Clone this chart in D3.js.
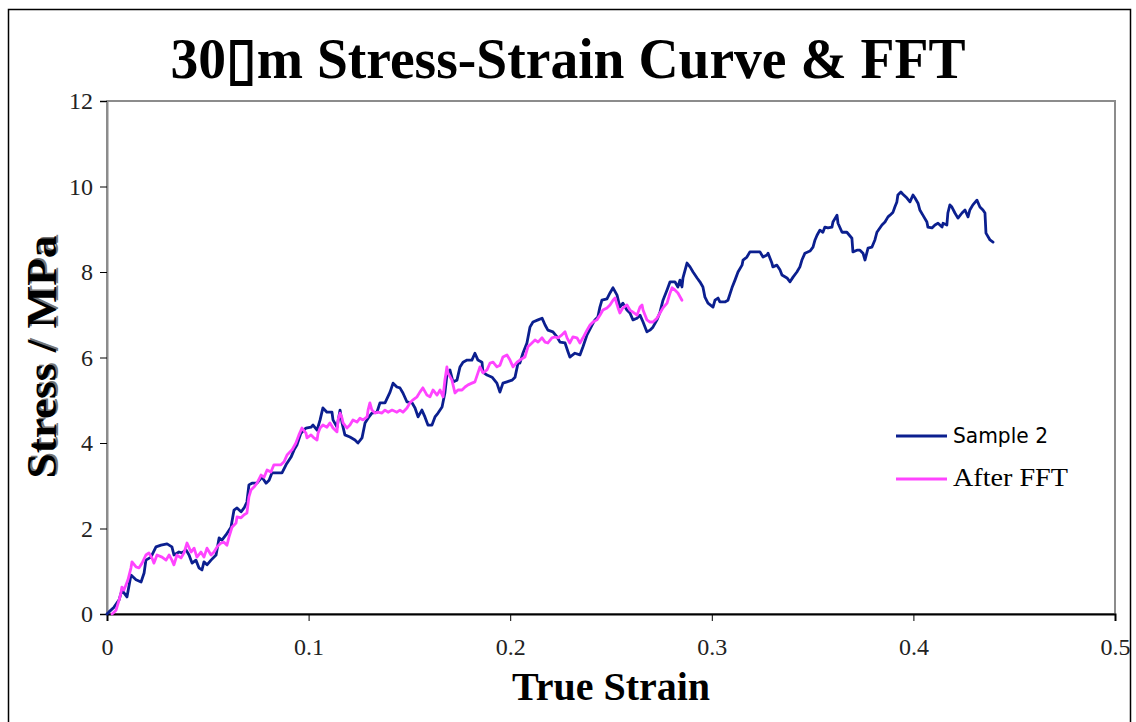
<!DOCTYPE html>
<html>
<head>
<meta charset="utf-8">
<script src="https://cdn.jsdelivr.net/npm/d3@7"></script>
<style>
  html, body { margin: 0; padding: 0; background: #fff; }
  svg { display: block; }
</style>
</head>
<body>
<svg id="chart" width="1136" height="722"></svg>
<script>
// Raw stress–strain record, sample 2
const sampleStrain = [0,0.001,0.0035,0.006,0.0074,0.0099,0.0119,0.0144,0.0169,0.0184,0.0193,0.0218,0.0243,0.0268,0.0298,0.0322,0.0332,0.0357,0.0372,0.0392,0.0407,0.0422,0.0441,0.0456,0.0471,0.0481,0.0496,0.0516,0.0541,0.0556,0.057,0.059,0.0615,0.063,0.0645,0.0665,0.068,0.0694,0.0704,0.0719,0.0744,0.0769,0.0789,0.0804,0.0818,0.0843,0.0868,0.0888,0.0913,0.0928,0.0942,0.0962,0.0987,0.1012,0.1022,0.1042,0.1057,0.1071,0.1091,0.1116,0.1121,0.1141,0.1156,0.1166,0.118,0.1205,0.123,0.1245,0.1265,0.128,0.1295,0.1314,0.1339,0.1354,0.1379,0.1404,0.1419,0.1438,0.1453,0.1468,0.1488,0.1513,0.1528,0.1543,0.1562,0.1577,0.1592,0.1612,0.1627,0.1642,0.1662,0.1676,0.1686,0.1701,0.1716,0.1736,0.1751,0.1766,0.1786,0.181,0.1825,0.184,0.186,0.1865,0.1885,0.191,0.1934,0.1949,0.1964,0.1984,0.2009,0.2024,0.2039,0.2048,0.2063,0.2083,0.2098,0.2113,0.2138,0.2158,0.2173,0.2187,0.2212,0.2232,0.2247,0.2272,0.2287,0.2296,0.2321,0.2346,0.2361,0.2381,0.2406,0.242,0.2435,0.2445,0.2455,0.248,0.2495,0.251,0.253,0.2544,0.2559,0.2579,0.2594,0.2609,0.2629,0.2644,0.2659,0.2678,0.2693,0.2708,0.2728,0.2743,0.2758,0.2778,0.2793,0.2817,0.2832,0.2842,0.2852,0.2857,0.2877,0.2892,0.2907,0.2927,0.2941,0.2956,0.2966,0.2981,0.3006,0.3016,0.3031,0.304,0.3065,0.308,0.31,0.3115,0.313,0.315,0.3155,0.3174,0.3189,0.3214,0.3239,0.3254,0.3274,0.3279,0.3298,0.3303,0.3323,0.3338,0.3348,0.3373,0.3388,0.3403,0.3422,0.3437,0.3447,0.3462,0.3487,0.3502,0.3512,0.3522,0.3536,0.3551,0.3561,0.3576,0.3596,0.3601,0.3621,0.3626,0.3646,0.367,0.3695,0.37,0.372,0.3735,0.375,0.376,0.3775,0.3794,0.3809,0.3819,0.3844,0.3859,0.3874,0.3884,0.3899,0.3908,0.3918,0.3923,0.3938,0.3948,0.3968,0.3983,0.3998,0.4008,0.4023,0.4032,0.4047,0.4067,0.4072,0.4092,0.4107,0.4122,0.4142,0.4147,0.4166,0.4171,0.4181,0.4191,0.4206,0.4221,0.4241,0.4256,0.4271,0.428,0.4295,0.4315,0.433,0.4345,0.4355,0.436,0.438,0.4395];
const sampleStress = [0,0.05,0.16,0.33,0.56,0.4,0.91,0.8,0.75,0.96,1.26,1.33,1.57,1.61,1.64,1.57,1.38,1.45,1.43,1.5,1.38,1.19,1.26,1.08,1.03,1.22,1.15,1.26,1.38,1.78,1.73,1.85,2.03,2.43,2.48,2.39,2.48,2.62,3.02,3.06,3.06,3.2,3.06,3.13,3.3,3.3,3.3,3.49,3.67,3.84,3.95,4.23,4.35,4.37,4.42,4.3,4.54,4.82,4.72,4.72,4.54,4.37,4.77,4.47,4.19,4.14,4.07,4,4.12,4.47,4.58,4.7,4.72,4.94,4.94,5.19,5.4,5.31,5.29,5.17,4.96,4.94,4.82,4.61,4.77,4.61,4.42,4.42,4.61,4.7,4.84,5.17,5.59,5.71,5.43,5.47,5.78,5.89,5.94,5.94,6.1,5.94,5.89,5.66,5.59,5.54,5.4,5.19,5.4,5.43,5.47,5.54,5.87,5.87,6.1,6.34,6.71,6.83,6.88,6.92,6.76,6.64,6.6,6.48,6.36,6.34,6.13,6.01,6.1,6.06,6.25,6.53,6.76,6.88,6.95,7.18,7.34,7.37,7.51,7.63,7.46,7.18,7.27,7.11,7.04,6.88,6.92,6.99,6.83,6.6,6.64,6.71,6.88,7.06,7.34,7.58,7.77,7.77,7.65,7.81,7.65,7.86,8.21,8.12,8,7.86,7.77,7.65,7.41,7.27,7.18,7.34,7.39,7.3,7.3,7.34,7.63,7.81,8,8.16,8.28,8.35,8.47,8.47,8.47,8.35,8.4,8.44,8.21,8.12,8.16,8.05,7.93,7.86,7.77,7.88,8,8.12,8.28,8.44,8.49,8.58,8.75,8.86,8.98,8.93,9.05,9.03,9.05,9.17,9.33,9.14,8.93,8.93,8.79,8.47,8.51,8.51,8.44,8.28,8.56,8.58,8.75,8.93,9.1,9.17,9.29,9.33,9.4,9.52,9.64,9.8,9.87,9.82,9.73,9.64,9.8,9.73,9.61,9.45,9.33,9.17,9.05,9.03,9.1,9.14,9.05,9.14,9.1,9.38,9.57,9.52,9.38,9.26,9.38,9.45,9.29,9.45,9.57,9.68,9.52,9.45,9.38,8.91,8.75,8.7];

// Same record after FFT filtering
const fftStrain = [0.0025,0.0045,0.006,0.0069,0.0074,0.0084,0.0094,0.0104,0.0119,0.0124,0.0144,0.0159,0.0174,0.0193,0.0208,0.0223,0.0233,0.0248,0.0273,0.0293,0.0308,0.0322,0.0332,0.0347,0.0367,0.0382,0.0397,0.0417,0.0432,0.0446,0.0466,0.0481,0.0496,0.0516,0.0531,0.0546,0.0565,0.058,0.0595,0.0605,0.062,0.064,0.0645,0.0665,0.068,0.0694,0.0704,0.0714,0.0729,0.0744,0.0764,0.0779,0.0794,0.0813,0.0828,0.0863,0.0878,0.0893,0.0918,0.0937,0.0952,0.0967,0.0987,0.0992,0.1012,0.1022,0.1042,0.1047,0.1057,0.1071,0.1091,0.1106,0.1121,0.1141,0.1146,0.1156,0.1166,0.1171,0.119,0.1205,0.122,0.124,0.1255,0.127,0.129,0.1295,0.1304,0.1314,0.1329,0.1344,0.1364,0.1379,0.1394,0.1414,0.1438,0.1453,0.1468,0.1488,0.1503,0.1518,0.1538,0.1552,0.1567,0.1587,0.1602,0.1617,0.1637,0.1652,0.1667,0.1676,0.1686,0.1691,0.1711,0.1726,0.1741,0.1761,0.1776,0.1791,0.181,0.1825,0.184,0.185,0.1865,0.1885,0.19,0.1915,0.1934,0.1949,0.1964,0.1984,0.1999,0.2014,0.2034,0.2048,0.2073,0.2088,0.2108,0.2123,0.2138,0.2158,0.2173,0.2187,0.2207,0.2222,0.2237,0.2257,0.2272,0.2282,0.2296,0.2311,0.2331,0.2346,0.2361,0.2381,0.2396,0.2411,0.243,0.2445,0.246,0.248,0.2495,0.251,0.252,0.2535,0.2544,0.2559,0.2579,0.2594,0.2609,0.2629,0.2644,0.2654,0.2659,0.2678,0.2693,0.2708,0.2728,0.2743,0.2758,0.2778,0.2793,0.2803,0.2817,0.2832,0.2852];
const fftStress = [0,0.09,0.33,0.49,0.63,0.56,0.68,0.8,1.08,1.22,1.1,1.08,1.19,1.38,1.43,1.31,1.19,1.38,1.33,1.26,1.38,1.26,1.15,1.38,1.31,1.43,1.66,1.45,1.54,1.33,1.45,1.33,1.54,1.38,1.45,1.57,1.66,1.68,1.61,1.8,2.03,2.13,2.27,2.25,2.32,2.36,2.74,2.9,2.97,3.06,3.25,3.2,3.37,3.32,3.49,3.49,3.56,3.72,3.84,4,4.19,4.35,4.23,4.12,4.19,4.14,4.07,4.23,4.35,4.42,4.37,4.47,4.35,4.26,4.54,4.7,4.58,4.47,4.35,4.42,4.54,4.49,4.58,4.54,4.61,4.77,4.94,4.77,4.7,4.72,4.7,4.77,4.72,4.77,4.72,4.77,4.72,4.82,4.94,5.01,5.08,5.19,5.29,5.12,5.08,5.24,5.12,5.24,5.08,5.47,5.78,5.64,5.47,5.17,5.24,5.24,5.31,5.36,5.4,5.43,5.64,5.78,5.64,5.71,5.87,5.89,5.78,5.82,6.01,6.06,5.94,5.78,5.89,5.94,6.01,6.25,6.34,6.41,6.36,6.46,6.36,6.34,6.46,6.48,6.46,6.53,6.6,6.46,6.34,6.48,6.46,6.34,6.46,6.64,6.76,6.83,6.88,6.99,7.11,7.16,7.23,7.34,7.39,7.16,7.04,7.16,7.23,7.11,7.06,6.99,7.18,7.23,7.11,6.88,6.83,6.83,6.92,7.04,7.16,7.27,7.51,7.63,7.58,7.51,7.34];

const xTicks = [0, 0.1, 0.2, 0.3, 0.4, 0.5];
const yTicks = [0, 2, 4, 6, 8, 10, 12];
const seriesNames = ["Sample 2", "After FFT"];
const seriesColors = ["#0b1f8f", "#ff44ff"];

const svg = d3.select("#chart");
const plot = { left: 107, right: 1115, top: 101, bottom: 614 };

const x = d3.scaleLinear().domain([0, 0.5]).range([plot.left, plot.right]);
const y = d3.scaleLinear().domain([0, 12]).range([plot.bottom, plot.top]);

// outer chart border
svg.append("rect")
  .attr("x", 8.5).attr("y", 9.5)
  .attr("width", 1122).attr("height", 730)
  .attr("fill", "none").attr("stroke", "#000").attr("stroke-width", 1.5);

// plot area frame (grey)
svg.append("rect")
  .attr("x", plot.left).attr("y", plot.top)
  .attr("width", plot.right - plot.left).attr("height", plot.bottom - plot.top)
  .attr("fill", "#fff").attr("stroke", "#8c8c8c").attr("stroke-width", 2);

const serif = "'Liberation Serif', 'Times New Roman', serif";

// y axis
const yAxis = svg.append("g")
  .attr("transform", `translate(${plot.left},0)`)
  .call(d3.axisLeft(y).tickValues(yTicks).tickFormat(d3.format("d")).tickSize(7).tickPadding(7));
yAxis.select(".domain").attr("stroke", "#8c8c8c").attr("stroke-width", 2);
yAxis.selectAll(".tick line").attr("stroke", "#000");
yAxis.selectAll(".tick text")
  .attr("font-family", serif).attr("font-size", 24).attr("fill", "#222");

// x axis
const xAxis = svg.append("g")
  .attr("transform", `translate(0,${plot.bottom})`)
  .call(d3.axisBottom(x).tickValues(xTicks).tickFormat(d => d === 0 ? "0" : d3.format(".1f")(d)).tickSize(7).tickPadding(17));
xAxis.select(".domain").attr("stroke", "#000").attr("stroke-width", 2);
xAxis.selectAll(".tick line").attr("stroke", "#000");
xAxis.selectAll(".tick text")
  .attr("font-family", serif).attr("font-size", 24).attr("fill", "#222");

// series
const line = d3.line().x(d => x(d[0])).y(d => y(d[1]));
const sampleData = d3.zip(sampleStrain, sampleStress);
const fftData = d3.zip(fftStrain, fftStress);

svg.append("path").datum(sampleData)
  .attr("d", line).attr("fill", "none")
  .attr("stroke", seriesColors[0]).attr("stroke-width", 2.8)
  .attr("stroke-linejoin", "round").attr("stroke-linecap", "round");
svg.append("path").datum(fftData)
  .attr("d", line).attr("fill", "none")
  .attr("stroke", seriesColors[1]).attr("stroke-width", 2.8)
  .attr("stroke-linejoin", "round").attr("stroke-linecap", "round");

// title
svg.append("text")
  .attr("x", 568).attr("y", 78)
  .attr("text-anchor", "middle")
  .attr("font-family", serif).attr("font-weight", "bold").attr("font-size", 58)
  .attr("textLength", 795).attr("lengthAdjust", "spacingAndGlyphs")
  .text("30\u25AFm Stress-Strain Curve & FFT");

// axis titles
svg.append("text")
  .attr("x", 611).attr("y", 700)
  .attr("text-anchor", "middle")
  .attr("font-family", serif).attr("font-weight", "bold").attr("font-size", 40)
  .text("True Strain");

const yTitle = svg.append("g").attr("transform", "translate(56,357) rotate(-90)");
yTitle.append("text")
  .attr("x", 1.5).attr("y", 1.5)
  .attr("text-anchor", "middle")
  .attr("font-family", serif).attr("font-weight", "bold").attr("font-size", 42)
  .attr("textLength", 243).attr("lengthAdjust", "spacingAndGlyphs")
  .attr("fill", "#777")
  .text("Stress / MPa");
yTitle.append("text")
  .attr("text-anchor", "middle")
  .attr("font-family", serif).attr("font-weight", "bold").attr("font-size", 42)
  .attr("textLength", 243).attr("lengthAdjust", "spacingAndGlyphs")
  .attr("fill", "#000")
  .text("Stress / MPa");

// legend
const legend = svg.append("g");
const legendY = [436, 479];
const legendFonts = [
  { family: "'DejaVu Sans', Verdana, sans-serif", size: 22, len: 95 },
  { family: serif, size: 26, len: 115 }
];
seriesNames.forEach((name, i) => {
  legend.append("line")
    .attr("x1", 896).attr("x2", 947)
    .attr("y1", legendY[i]).attr("y2", legendY[i])
    .attr("stroke", seriesColors[i]).attr("stroke-width", 2.8);
  legend.append("text")
    .attr("x", 953).attr("y", legendY[i] + 7)
    .attr("font-family", legendFonts[i].family)
    .attr("font-size", legendFonts[i].size)
    .attr("textLength", legendFonts[i].len).attr("lengthAdjust", "spacingAndGlyphs")
    .attr("fill", "#000")
    .text(name);
});
</script>
</body>
</html>
